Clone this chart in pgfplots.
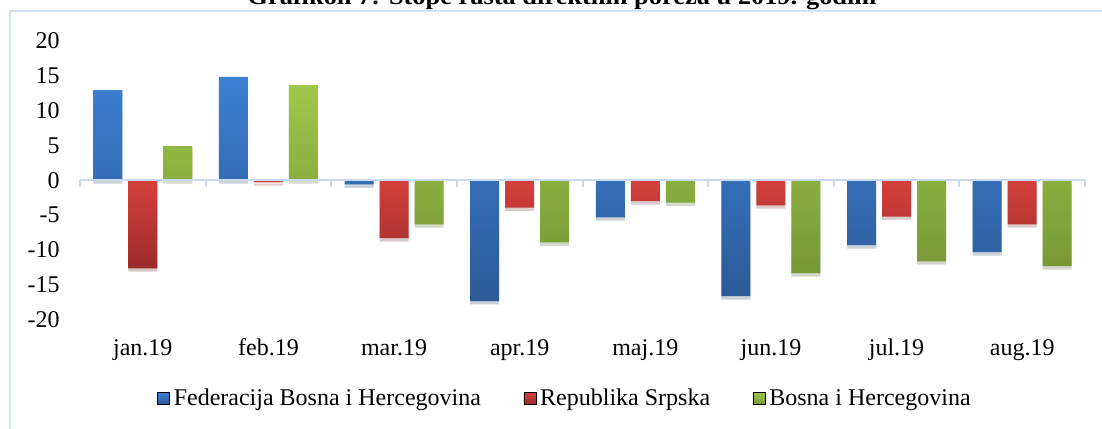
\documentclass[border=0pt]{standalone}
\usepackage{pgfplots}
\pgfplotsset{compat=1.18}
\usepackage{fontspec}
\setmainfont{Liberation Serif}
\newfontfamily\titlefont{Liberation Serif}[FakeStretch=1.1]
\usetikzlibrary{shadows}

\definecolor{bluetop}{HTML}{3C7FD2}
\definecolor{bluebot}{HTML}{2B5A96}
\definecolor{redtop}{HTML}{D5413C}
\definecolor{redbot}{HTML}{9C2B2A}
\definecolor{greentop}{HTML}{9EC84A}
\definecolor{greenbot}{HTML}{769635}
\definecolor{axblue}{HTML}{C9DAF0}
\definecolor{frameblue}{HTML}{D6E3F3}

\begin{document}
\begin{tikzpicture}
\useasboundingbox (0,0) rectangle (826.5pt,321pt);
\clip (0,0) rectangle (826.5pt,321pt);
\draw[frameblue, line width=1.5pt] (7.5pt,-2pt) -- (7.5pt,312.75pt) -- (830pt,312.75pt);
\node[font=\titlefont\bfseries\fontsize{18}{20}\selectfont, anchor=base, inner sep=0pt] at (421.5pt,317.25pt) {Grafikon 7: Stope rasta direktnih poreza u 2019. godini};
\begin{axis}[
  at={(60pt,81pt)}, anchor=south west,
  scale only axis, width=753.75pt, height=209.625pt,
  xmin=-0.5, xmax=7.5, ymin=-20, ymax=20,
  ybar, bar width=21.75pt,
  axis line style={draw=none},
  ytick={-20,-15,...,20},
  xtick={0,...,7},
  xticklabels={jan.19,feb.19,mar.19,apr.19,maj.19,jun.19,jul.19,aug.19},
  major tick length=0pt,
  tick style={draw=none},
  /pgf/number format/assume math mode=true,
  ticklabel style={font=\fontsize{18}{20}\selectfont},
  yticklabel style={anchor=east, inner sep=0pt, xshift=-15pt},
  xticklabel style={anchor=base, inner sep=0pt, yshift=-26.25pt},
  clip=false,
  legend columns=3,
  legend style={draw=none, fill=none, at={(0.0766,-0.281)}, anchor=west, inner sep=0pt,
    font=\fontsize{18}{20}\selectfont,
    /tikz/every odd column/.append style={column sep=1pt},
    /tikz/every even column/.append style={column sep=30pt}},
  barshadow/.style={drop shadow={shadow xshift=0pt, shadow yshift=-2.5pt, opacity=0.12, fill=black}},
]
\addplot[forget plot, draw=none, bar shift=-26.25pt, top color=bluetop, bottom color=bluebot, barshadow]
  coordinates {(0,12.9) (1,14.8) (2,-0.6) (3,-17.3) (4,-5.3) (5,-16.6) (6,-9.3) (7,-10.3)};
\addplot[forget plot, draw=none, bar shift=0pt, top color=redtop, bottom color=redbot, barshadow]
  coordinates {(0,-12.6) (1,-0.3) (2,-8.3) (3,-3.9) (4,-3.0) (5,-3.6) (6,-5.2) (7,-6.3)};
\addplot[forget plot, draw=none, bar shift=26.25pt, top color=greentop, bottom color=greenbot, barshadow]
  coordinates {(0,4.9) (1,13.6) (2,-6.3) (3,-8.9) (4,-3.2) (5,-13.3) (6,-11.6) (7,-12.3)};
\addlegendimage{legend image code/.code={\fill[top color=bluetop, bottom color=bluebot] (0pt,-4.5pt) rectangle (9pt,4.5pt);}}
\addlegendentry{Federacija Bosna i Hercegovina}
\addlegendimage{legend image code/.code={\fill[top color=redtop, bottom color=redbot] (0pt,-4.5pt) rectangle (9pt,4.5pt);}}
\addlegendentry{Republika Srpska}
\addlegendimage{legend image code/.code={\fill[top color=greentop, bottom color=greenbot] (0pt,-4.5pt) rectangle (9pt,4.5pt);}}
\addlegendentry{Bosna i Hercegovina}
\draw[axblue, line width=1.5pt] (axis cs:-0.5,0) -- (axis cs:7.5,0);
\pgfplotsinvokeforeach{-0.5,0.5,1.5,2.5,3.5,4.5,5.5,6.5,7.5}{\draw[axblue, line width=1.5pt] (axis cs:#1,0) -- ([yshift=-5.25pt]axis cs:#1,0);}
\end{axis}
\end{tikzpicture}
\end{document}
